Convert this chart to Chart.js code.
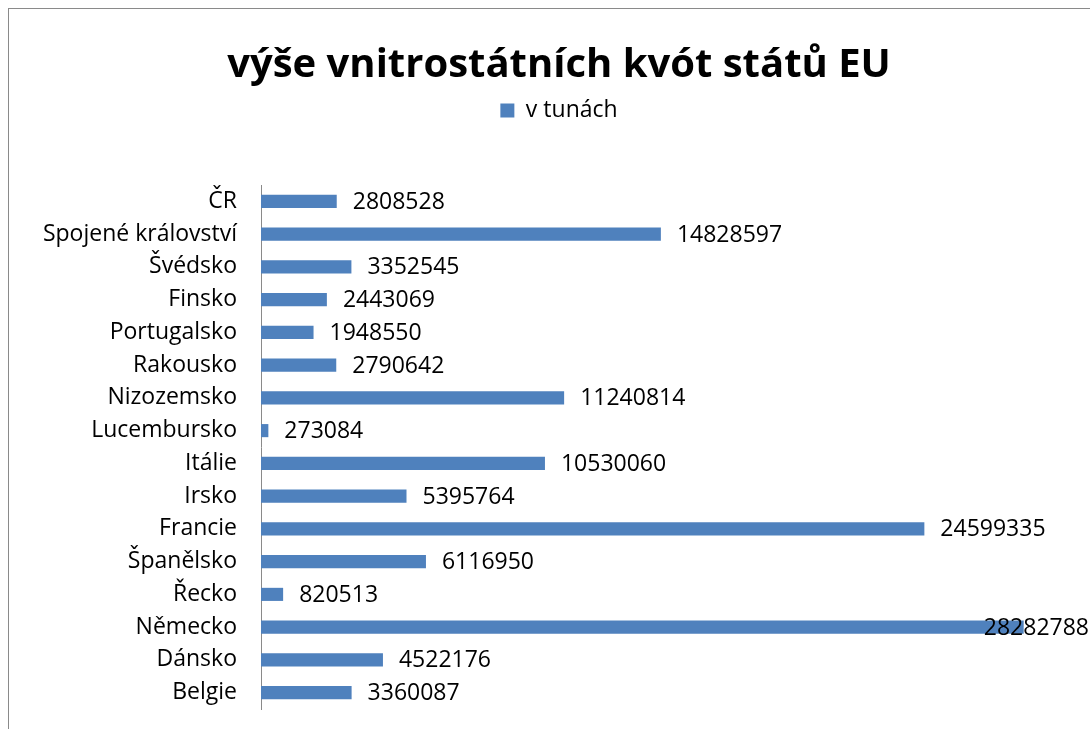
<!DOCTYPE html>
<html>
<head>
<meta charset="utf-8">
<script src="https://cdn.jsdelivr.net/npm/chart.js@4"></script>
<style>
html,body{margin:0;padding:0;background:#fff;overflow:hidden;width:1090px;height:729px;}
#frame{position:absolute;left:8px;top:8px;width:1100px;height:730px;border-left:1px solid #8a8a8a;border-top:1px solid #8a8a8a;}
#c{position:absolute;left:0;top:0;}
</style>
</head>
<body>
<div id="frame"><canvas id="c" width="1100" height="721"></canvas></div>
<script>
const categories = ["ČR","Spojené království","Švédsko","Finsko","Portugalsko","Rakousko","Nizozemsko","Lucembursko","Itálie","Irsko","Francie","Španělsko","Řecko","Německo","Dánsko","Belgie"];
const values = [2808528,14828597,3352545,2443069,1948550,2790642,11240814,273084,10530060,5395764,24599335,6116950,820513,28282788,4522176,3360087];
const seriesName = "v tunách";
const titleText = "výše vnitrostátních kvót států EU";
const xMin = 0, xMax = 30000000;

const FONT = "'Open Sans', sans-serif";
const valueLabels = {
  id: 'valueLabels',
  afterDatasetsDraw(chart) {
    const ctx = chart.ctx;
    const meta = chart.getDatasetMeta(0);
    ctx.save();
    ctx.font = "23px " + FONT;
    ctx.fillStyle = "#000";
    ctx.textBaseline = "middle";
    ctx.textAlign = "left";
    meta.data.forEach((bar, i) => {
      const txt = String(values[i]);
      const w = ctx.measureText(txt).width;
      let x = bar.x + 16;
      const limit = 1080;
      if (x + w > limit) x = limit - w;
      ctx.fillText(txt, x, bar.y + 1);
    });
    ctx.restore();
  }
};
// centre title and legend over the full (frame) width
const centerHeader = {
  id: 'centerHeader',
  afterLayout(chart) {
    [chart.titleBlock, chart.legend].forEach(b => {
      if (b) { b.left = 0; b.right = chart.width; }
    });
  }
};

new Chart(document.getElementById('c'), {
  type: 'bar',
  data: {
    labels: categories,
    datasets: [{
      label: seriesName,
      data: values,
      backgroundColor: '#4F81BD',
      borderWidth: 0,
      categoryPercentage: 1.0,
      barPercentage: 0.4
    }]
  },
  options: {
    indexAxis: 'y',
    responsive: false,
    animation: false,
    devicePixelRatio: 1,
    layout: { padding: { left: 0, right: 39, top: 0, bottom: 21 } },
    plugins: {
      title: {
        display: true,
        text: titleText,
        color: '#000',
        font: { family: FONT, size: 40, weight: 'bold' },
        padding: { top: 33, bottom: 1 }
      },
      legend: {
        display: true,
        labels: {
          boxWidth: 14, boxHeight: 14,
          color: '#000',
          font: { family: FONT, size: 23 },
          padding: 8
        }
      },
      tooltip: { enabled: false }
    },
    scales: {
      x: {
        display: true,
        position: 'top',
        min: xMin, max: xMax,
        ticks: { display: false },
        grid: { display: false, drawTicks: false },
        border: { display: false },
        afterFit(scale) { scale.height = 53; }
      },
      y: {
        grid: { display: false, drawTicks: false },
        border: { display: true, color: '#8a8a8a', width: 1 },
        ticks: { color: '#000', font: { family: FONT, size: 23 }, padding: 24 },
        afterFit(scale) { scale.width = 252; scale.paddingTop = 0; scale.paddingBottom = 0; }
      }
    }
  },
  plugins: [valueLabels, centerHeader]
});
</script>
</body>
</html>
